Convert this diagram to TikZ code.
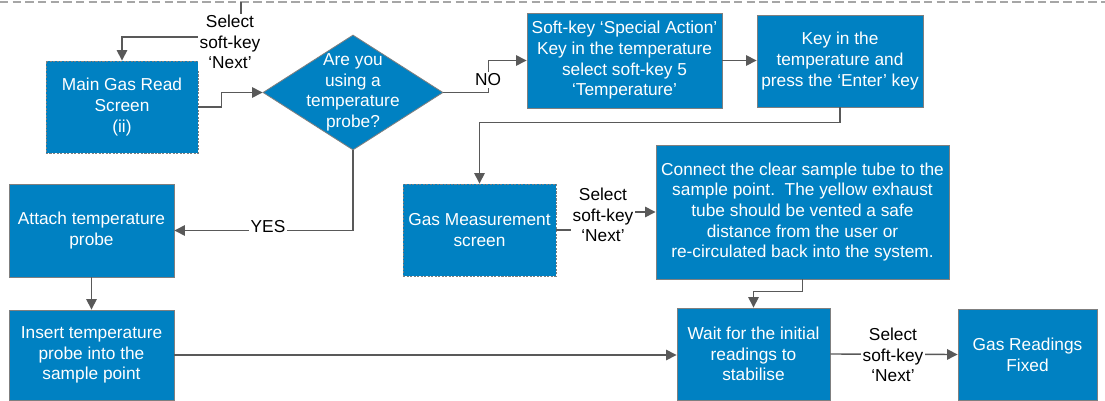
\documentclass[tikz,border=0pt]{standalone}
\usepackage{fontspec}
\setmainfont{Liberation Sans}
\usepackage{tikz}
\usetikzlibrary{
  arrows.meta,
  positioning,
  calc,
  shapes.geometric,
}
\definecolor{boxblue}{HTML}{0081C2}
\definecolor{edge}{HTML}{7F7F7F}
\definecolor{wire}{HTML}{595959}
\definecolor{rule}{HTML}{A6A6A6}
\tikzset{
  >={Triangle[length=7.5pt,width=7.5pt]},
  font=\fontsize{12.3}{14.7}\selectfont,
  stepbox/.style={
    draw=edge,
    fill=boxblue,
    line width=0.6pt,
    text=white,
    align=center,
    inner sep=2pt,
  },
  screenbox/.style={
    stepbox,
    dash pattern=on 1.5pt off 1pt,
  },
  decision/.style={
    shape=diamond,
    draw=edge,
    fill=boxblue,
    line width=0.6pt,
    inner sep=0pt,
  },
  decisiontext/.style={text=white, align=center, inner sep=0pt},
  flow/.style={draw=wire, line width=1pt, ->},
  tag/.style={fill=white, text=black, align=center, inner sep=1pt},
}

\begin{document}
\begin{tikzpicture}[x=0.025cm,y=-0.025cm]
  \useasboundingbox (0,0) rectangle (1105,401);

  % top of page
  \draw[rule, line width=1.4pt, dash pattern=on 6pt off 3pt] (0,2) -- (1105,2);
  \coordinate (top) at (241,2);
  \coordinate (bend) at (241,37);

  % screens and steps
  \node[screenbox, minimum width=3.8cm, minimum height=2.3cm] (main) at (122,107)
    {Main Gas Read\\Screen\\(ii)};
  \node[decision, minimum width=4.5cm, minimum height=2.875cm] (ask) at (353,92.5) {};
  \node[decisiontext] (asktext) at (ask.center) {Are you\\using a\\temperature\\probe?};
  \node[stepbox, minimum width=4.875cm, minimum height=2.375cm] (soft) at (624.5,60.5)
    {Soft-key ‘Special Action’\\Key in the temperature\\select soft-key 5\\‘Temperature’};
  \node[stepbox, minimum width=4.15cm, minimum height=2.3cm] (keyin) at (840,61)
    {Key in the\\temperature and\\press the ‘Enter’ key};
  \node[screenbox, minimum width=3.825cm, minimum height=2.3cm] (meas) at (479.5,230)
    {Gas Measurement\\screen};
  \node[stepbox, minimum width=7.325cm, minimum height=3.35cm] (connect) at (802.5,212)
    {Connect the clear sample tube to the\\sample point.\ \ The yellow exhaust\\tube should be vented a safe\\distance from the user or\\re-circulated back into the system.};
  \node[stepbox, minimum width=4.125cm, minimum height=2.325cm] (attach) at (91.5,230.5)
    {Attach temperature\\probe};
  \node[stepbox, minimum width=4.125cm, minimum height=2.25cm] (insert) at (91.5,355)
    {Insert temperature\\probe into the\\sample point};
  \node[stepbox, minimum width=3.825cm, minimum height=2.3cm] (wait) at (753.5,354)
    {Wait for the initial\\readings to\\stabilise};
  \node[stepbox, minimum width=3.475cm, minimum height=2.275cm] (fixed) at (1027.5,354.5)
    {Gas Readings\\Fixed};

  % connectors
  \draw[flow] (top) -- (bend) -| (main.north);
  \draw[flow] (main.east) -- ++(23,0) |- (ask.west);
  \draw[flow] (ask.east) -- ++(45,0) |- (soft.west);
  \draw[flow] (soft.east) -- (soft.east -| keyin.west);
  \draw[flow] (keyin.south) -- ++(0,15) -| (meas.north);
  \draw[flow] (meas.east) -- ++(47,0) |- (connect.west);
  \draw[flow] (ask.south) |- (attach.east);
  \draw[flow] (attach.south) -- (insert.north);
  \draw[flow] (insert.east) -- (insert.east -| wait.west);
  \draw[flow] (connect.south) -- ++(0,12) -| (wait.north);
  \draw[flow] (wait.east) -- (fixed.west);

  % labels
  \node[tag] (next1) at (230,42) {Select\\soft-key\\‘Next’};
  \node[tag] (no) at (488,80) {NO};
  \node[tag] (yes) at (268,227) {YES};
  \node[tag] (next2) at (603,215) {Select\\soft-key\\‘Next’};
  \node[tag] (next3) at (893,355) {Select\\soft-key\\‘Next’};
\end{tikzpicture}
\end{document}
